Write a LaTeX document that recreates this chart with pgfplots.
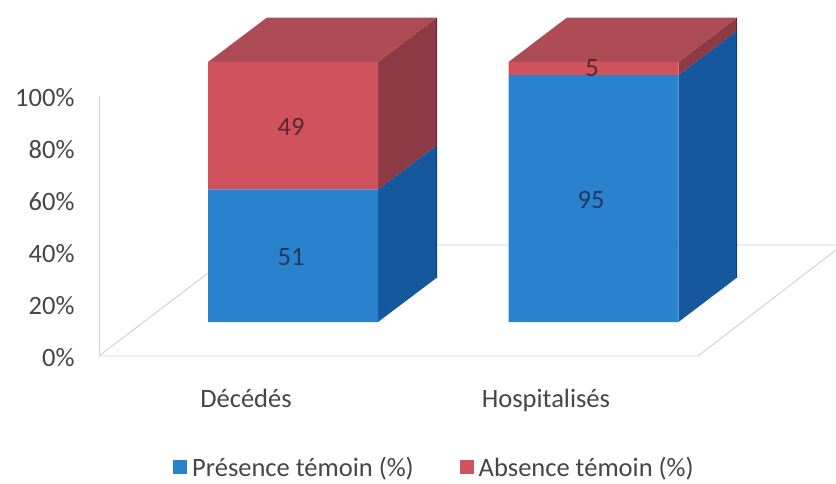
\documentclass[border=0pt]{standalone}
\usepackage{pgfplots}
\usepackage{fontspec}
\setmainfont{Carlito}
\pgfplotsset{compat=1.18}
\definecolor{bluef}{RGB}{42,130,205}
\definecolor{blues}{RGB}{22,88,158}
\definecolor{redf}{RGB}{208,82,92}
\definecolor{reds}{RGB}{142,58,68}
\definecolor{redt}{RGB}{174,76,86}
\definecolor{txt}{RGB}{70,70,70}
\definecolor{gridc}{RGB}{205,208,216}
\definecolor{lblb}{RGB}{30,58,95}
\definecolor{lblr}{RGB}{92,38,50}
\newcommand{\chartfont}{\fontsize{26.5pt}{30pt}\selectfont}
\pgfplotsset{
  common/.style={scale only axis,clip=false,xmin=0,xmax=836,width=836pt,height=260pt,ymin=0,ymax=100,
    at={(0pt,161pt)},anchor=south west,hide axis},
  squareleg/.style={legend image code/.code={\fill[##1] (0pt,-7pt) rectangle (14pt,7pt);}},
}
\begin{document}
\begin{tikzpicture}[x=1pt,y=1pt]
\useasboundingbox (0,0) rectangle (836,483);
% frame of the chart: value axis, floor, category names
\begin{axis}[scale only axis,clip=false,at={(99pt,127pt)},anchor=south west,
  width=737pt,height=260pt,xmin=99,xmax=836,ymin=0,ymax=100,
  axis lines=left,axis line style={-,gridc,line width=0.9pt},x axis line style={draw=none},
  ytick={0,20,40,60,80,100},yticklabels={0\%,20\%,40\%,60\%,80\%,100\%},
  xtick={246,546},xticklabels={Décédés,Hospitalisés},
  major tick length=0pt,
  yticklabel style={font=\chartfont,text=txt,anchor=east,xshift=-21pt,yshift=-1.5pt},
  xticklabel style={font=\chartfont,text=txt,anchor=base,yshift=-51pt,inner sep=0pt,outer sep=0pt}]
\addplot[gridc,line width=0.9pt] coordinates {(99,0)(698,0)(836,40.8)};
\addplot[gridc,line width=0.9pt] coordinates {(99,0)(245,42.7)(836,42.7)};
\end{axis}
% side and top faces: y in percent, from the bars' front base
\begin{axis}[common]
\addplot[draw=none,fill=blues] coordinates {(378,0)(437,17.1)(437,68.1)(378,51)} --cycle;
\addplot[draw=none,fill=reds] coordinates {(378,51)(437,68.1)(437,117.1)(378,100)} --cycle;
\addplot[draw=none,fill=redt] coordinates {(208,100)(378,100)(437,117.1)(267,117.1)} --cycle;
\addplot[draw=none,fill=blues] coordinates {(678.5,0)(737,17.1)(737,112.1)(678.5,95)} --cycle;
\addplot[draw=none,fill=reds] coordinates {(678.5,95)(737,112.1)(737,117.1)(678.5,100)} --cycle;
\addplot[draw=none,fill=redt] coordinates {(508.5,100)(678.5,100)(737,117.1)(567,117.1)} --cycle;
\addplot[blues!70!black,line width=1.5pt] coordinates {(436.5,17.1)(436.5,68.1)};
\addplot[reds!70!black,line width=1.5pt] coordinates {(436.5,68.1)(436.5,117.1)};
\addplot[blues!70!black,line width=1.5pt] coordinates {(736.5,17.1)(736.5,112.1)};
\addplot[reds!70!black,line width=1.5pt] coordinates {(736.5,112.1)(736.5,117.1)};
\end{axis}
% front faces
\begin{axis}[common,ybar stacked,bar width=170pt,
  legend style={at={(axis cs:173,-55.8)},anchor=west,draw=none,fill=none,font=\chartfont,text=txt,
    legend columns=2,/tikz/every even column/.append style={column sep=44pt},
    /tikz/every odd column/.append style={column sep=3pt},inner sep=0pt}]
\addplot[draw=none,fill=bluef,squareleg] coordinates {(293,51)(593.5,95)};
\addplot[draw=none,fill=redf,squareleg] coordinates {(293,49)(593.5,5)};
\legend{Présence témoin (\%),Absence témoin (\%)}
\end{axis}
% value labels
\begin{axis}[common]
\node[font=\chartfont,text=lblb] at (axis cs:291,25) {51};
\node[font=\chartfont,text=lblr] at (axis cs:291,75) {49};
\node[font=\chartfont,text=lblb] at (axis cs:591,47) {95};
\node[font=\chartfont,text=lblr] at (axis cs:592,97.5) {5};
\end{axis}
\end{tikzpicture}
\end{document}
